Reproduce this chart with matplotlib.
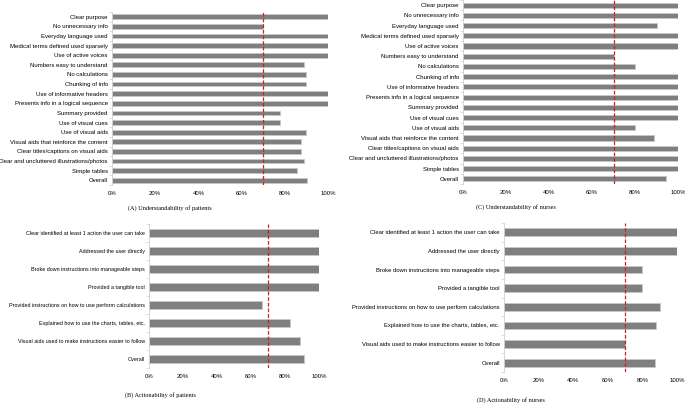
import matplotlib
matplotlib.use("Agg")
import matplotlib.pyplot as plt
from matplotlib.ticker import FixedLocator, PercentFormatter

und_items = ["Clear purpose", "No unnecessary info", "Everyday language used",
             "Medical terms defined used sparsely", "Use of active voices",
             "Numbers easy to understand", "No calculations", "Chunking of info",
             "Use of informative headers", "Presents info in a logical sequence",
             "Summary provided", "Use of visual cues", "Use of visual aids",
             "Visual aids that reinforce the content", "Clear titles/captions on visual aids",
             "Clear and uncluttered illustrations/photos", "Simple tables", "Overall"]
und_patients = [100, 70, 100, 100, 100, 89, 90, 90, 100, 100, 78, 78, 90, 87.5, 87.5, 89, 85.5, 90.3]
und_nurses = [100, 100, 90, 100, 100, 70, 80, 100, 100, 100, 100, 100, 80, 89, 100, 100, 100, 94.6]

act_items = ["Clear identified at least 1 action the user can take", "Addressed the user directly",
             "Broke down instructions into manageable steps", "Provided a tangible tool",
             "Provided instructions on how to use perform calculations",
             "Explained how to use the charts, tables, etc.",
             "Visual aids used to make instructions easier to follow", "Overall"]
act_patients = [100, 100, 100, 100, 66.7, 83, 88.6, 91]
act_nurses = [100, 100, 80, 80, 90, 88, 70, 87]

threshold = 70
x_ticks = [0, 20, 40, 60, 80, 100]
captions = ["(A) Understandability of patients", "(B) Actionability of patients",
            "(C) Understandability of nurses", "(D) Actionability of nurses"]

W, H = 685, 403
fig = plt.figure(figsize=(W / 100, H / 100), dpi=100)
plt.rcParams['font.family'] = ['Liberation Sans', 'DejaVu Sans']


def px_axes(x0, x1, ytop, ybot):
    return fig.add_axes([x0 / W, 1 - ybot / H, (x1 - x0) / W, (ybot - ytop) / H])


def panel(ax, items, vals, bh, lsize):
    n = len(items)
    ypos = list(range(n))
    ax.barh(ypos, vals, height=bh, color="#7f7f7f", edgecolor="#c8c8c8", linewidth=0.6)
    ax.set_ylim(n - 0.5, -0.5)
    ax.set_xlim(0, 100)
    ax.set_yticks(ypos)
    ax.set_yticklabels(items, fontsize=lsize)
    ax.yaxis.set_minor_locator(FixedLocator([i - 0.5 for i in range(n + 1)]))
    ax.tick_params(axis="y", which="major", length=0, pad=3)
    ax.tick_params(axis="y", which="minor", length=2, color="#d0d0d0", width=0.5)
    ax.set_xticks(x_ticks)
    ax.xaxis.set_major_formatter(PercentFormatter(decimals=0))
    ax.tick_params(axis="x", length=0, labelsize=4.3, pad=4)
    for s in ["top", "right", "bottom"]:
        ax.spines[s].set_visible(False)
    ax.spines["left"].set_color("#d0d0d0")
    ax.spines["left"].set_linewidth(0.6)
    ax.axvline(threshold, color="#cc2222", linestyle=(0, (3, 1.5)), linewidth=0.9)


axA = px_axes(112, 328, 12, 185)
panel(axA, und_items, und_patients, 0.5, 4.3)
axC = px_axes(463, 678, 0, 184)
panel(axC, und_items, und_nurses, 0.5, 4.3)
axB = px_axes(149, 319, 224, 368)
panel(axB, act_items, act_patients, 0.42, 3.85)
axD = px_axes(504, 677, 223, 372)
panel(axD, act_items, act_nurses, 0.42, 4.2)

cap_pos = [(170, 208), (160, 395), (516, 207), (511, 400)]
for cap, (cx, cy) in zip(captions, cap_pos):
    fig.text(cx / W, 1 - cy / H, cap, ha="center", va="center", fontsize=4.5,
             family=["Liberation Serif", "DejaVu Serif"])

fig.savefig("out.png", dpi=100)
